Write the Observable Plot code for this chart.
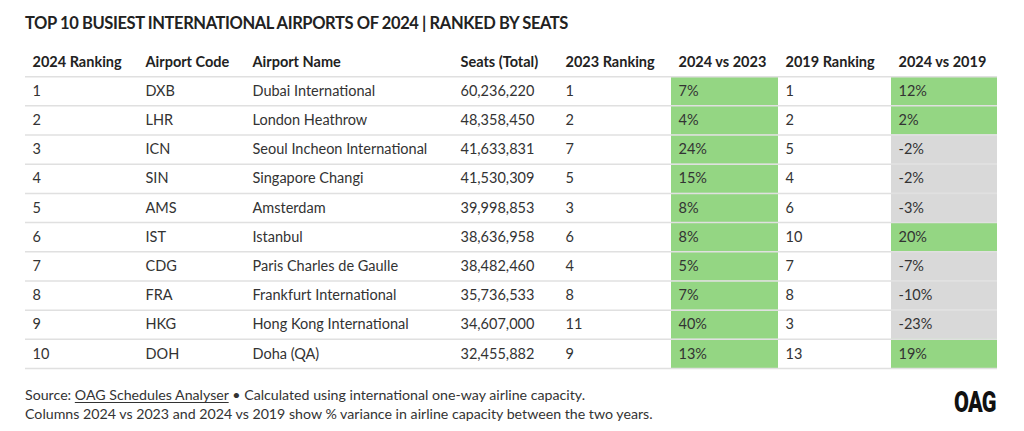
<!DOCTYPE html>
<html><head><meta charset="utf-8">
<script src="https://cdn.jsdelivr.net/npm/d3@7"></script>
<script src="https://cdn.jsdelivr.net/npm/@observablehq/plot@0.6"></script>
<style>
body{margin:0;background:#fff;font-family:Lato,sans-serif;color:#333;width:1024px;height:431px;overflow:hidden;position:relative}
#title{height:40px;box-sizing:border-box;padding:12px 0 0 25px;font-weight:700;font-size:16.5px;letter-spacing:-0.4px;line-height:22px;color:#222;white-space:nowrap}
#chart{height:332px}
#foot{padding:13px 0 0 25px;font-size:14.2px;line-height:19px;color:#333;white-space:nowrap}
#foot u{text-decoration:underline;text-underline-offset:2px}
#logo{position:absolute;left:954px;top:387px;font-family:Roboto,sans-serif;font-weight:900;font-size:30px;line-height:30px;color:#111;transform:scaleX(0.72);transform-origin:left center;letter-spacing:-1px}
</style></head>
<body>
<div id="title">TOP 10 BUSIEST INTERNATIONAL AIRPORTS OF 2024 | RANKED BY SEATS</div>
<div id="chart"></div>
<div id="foot">Source: <u>OAG Schedules Analyser</u> • Calculated using international one-way airline capacity.<br>Columns 2024 vs 2023 and 2024 vs 2019 show % variance in airline capacity between the two years.</div>
<div id="logo">OAG</div>
<script>
const headers = ["2024 Ranking","Airport Code","Airport Name","Seats (Total)","2023 Ranking","2024 vs 2023","2019 Ranking","2024 vs 2019"];
const rank2024 = [1,2,3,4,5,6,7,8,9,10];
const codes = ["DXB","LHR","ICN","SIN","AMS","IST","CDG","FRA","HKG","DOH"];
const names = ["Dubai International","London Heathrow","Seoul Incheon International","Singapore Changi","Amsterdam","Istanbul","Paris Charles de Gaulle","Frankfurt International","Hong Kong International","Doha (QA)"];
const seats = [60236220,48358450,41633831,41530309,39998853,38636958,38482460,35736533,34607000,32455882];
const rank2023 = [1,2,7,5,3,6,4,8,11,9];
const change2023 = [7,4,24,15,8,8,5,7,40,13];
const rank2019 = [1,2,5,4,6,10,7,8,3,13];
const change2019 = [12,2,-2,-2,-3,20,-7,-10,-23,19];

// layout (column widths in table units)
const colWidths = [113,107,208,105,113,107,113,106];
const colLeft = colWidths.reduce((a,w,i)=>{a.push(i?a[i-1]+colWidths[i-1]:0);return a;},[]);
const total = d3.sum(colWidths);
const pad = 7;
const green = "#94d683", grey = "#d9d9d9";
const fmtInt = d3.format(",");

const columns = [
  rank2024.map(String),
  codes,
  names,
  seats.map(fmtInt),
  rank2023.map(String),
  change2023.map(v=>v+"%"),
  rank2019.map(String),
  change2019.map(v=>v+"%")
];
const cells = [];
columns.forEach((col,c)=>col.forEach((t,r)=>cells.push({c,r:r+1,t})));
const shaded = [];
[[5,change2023],[7,change2019]].forEach(([c,vals])=>vals.forEach((v,r)=>shaded.push({c,r:r+1,v})));

const chart = Plot.plot({
  width:1024, height:332,
  marginLeft:25, marginRight:27, marginTop:7, marginBottom:4,
  x:{type:"linear", domain:[0,total], axis:null},
  y:{type:"linear", domain:[0,11], reverse:true, axis:null},
  style:{fontFamily:"Lato, sans-serif", fontSize:"14px", background:"#fff", color:"#333"},
  marks:[
    Plot.rect(shaded, {x1:d=>colLeft[d.c], x2:d=>colLeft[d.c]+colWidths[d.c], y1:d=>d.r, y2:d=>d.r+1, fill:d=>d.v>=0?green:grey}),
    Plot.ruleY(d3.range(1,12), {stroke:"#e0e0e0", strokeWidth:1.5}),
    Plot.text(headers, {x:(d,i)=>colLeft[i]+pad, y:()=>0.5, text:d=>d, textAnchor:"start", fontWeight:700, fill:"#222", fontSize:14.5}),
    Plot.text(cells, {x:d=>colLeft[d.c]+pad, y:d=>d.r+0.5, text:"t", textAnchor:"start", fill:"#333", fontSize:14.5})
  ]
});
document.getElementById("chart").appendChild(chart);
</script>
</body></html>
